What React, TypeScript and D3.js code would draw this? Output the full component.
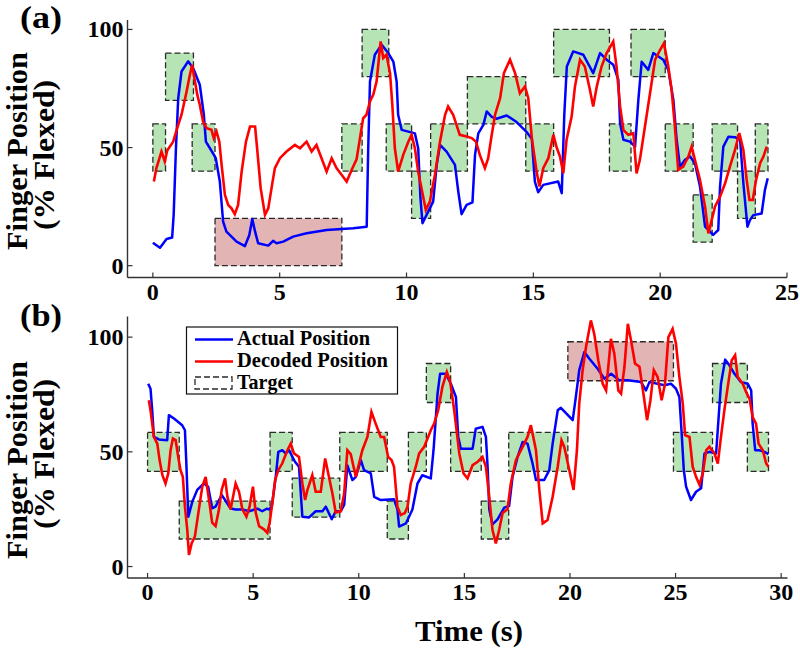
import React from 'react';
import * as d3 from 'd3';

type Pt = [number, number];
type Box = [number, number, number, number];

// Panel (a)
const aActual: Pt[] = [[0,9.7],[0.28,7.6],[0.54,11.3],[0.76,11.9],[0.82,21.5],[0.91,49.7],[1.0,70.9],[1.13,82.2],[1.39,86.5],[1.59,83.6],[1.85,76.6],[2.01,63.9],[2.09,52.5],[2.25,49.7],[2.48,45.5],[2.64,35.6],[2.77,18.6],[2.9,14.4],[3.3,10.2],[3.63,8.3],[3.8,12.9],[3.92,19.8],[4.03,14.4],[4.15,9.5],[4.55,8.5],[4.74,10.5],[4.88,9.5],[5.14,10.2],[5.53,12.3],[6.06,13.7],[6.85,15.1],[7.9,15.8],[8.43,16.5],[8.49,49.7],[8.56,78],[8.75,89.3],[9.02,93.5],[9.28,90],[9.48,86.4],[9.61,78],[9.67,63.9],[9.81,57.5],[10.33,56],[10.46,49.7],[10.55,28.5],[10.63,18],[10.79,21.5],[11.05,27.1],[11.19,42.7],[11.32,51.1],[11.58,48.3],[11.91,42.7],[12.04,31.4],[12.17,21.8],[12.37,25.7],[12.6,26.8],[12.7,46.9],[12.83,56],[13.03,59.6],[13.16,65.3],[13.36,63],[13.55,62.2],[13.95,63.6],[14.34,60.8],[14.74,56.5],[14.94,53.7],[15.06,35.6],[15.19,31.1],[15.39,34.2],[15.98,35.6],[16.12,30.7],[16.22,63.9],[16.32,84.3],[16.57,90.7],[16.97,89.3],[17.36,81.5],[17.63,90],[17.89,87.2],[18.15,85.1],[18.35,78.7],[18.42,60.3],[18.55,53.3],[18.81,52.5],[19.01,50.4],[19.14,70.2],[19.27,86.3],[19.53,82.9],[19.73,90],[20.12,87.2],[20.32,82.9],[20.52,70.2],[20.65,53.3],[20.78,41.9],[20.98,44.8],[21.18,46.2],[21.37,43.4],[21.57,33.5],[21.77,16.5],[22.09,13],[22.29,15.1],[22.36,33.5],[22.49,50.4],[22.69,54.6],[22.95,54.4],[23.15,53.3],[23.28,34.9],[23.44,16.5],[23.54,19.3],[23.67,21.4],[24.0,22.1],[24.13,32.1],[24.24,37]];

const aDecoded: Pt[] = [[0.04,35.6],[0.14,41.3],[0.34,48.3],[0.47,44.1],[0.57,48.9],[0.8,52.5],[1.0,59.6],[1.13,63.9],[1.33,73.7],[1.46,80.8],[1.55,85],[1.66,78],[1.75,72.4],[1.85,68.1],[1.98,61],[2.12,58.2],[2.31,57.5],[2.4,54],[2.51,56.8],[2.62,52.5],[2.71,42.7],[2.84,30],[2.97,25.7],[3.1,24.3],[3.23,21.8],[3.36,25.7],[3.5,39.8],[3.67,52.5],[3.83,58.9],[4.03,58.9],[4.11,49.7],[4.25,32.8],[4.42,21.5],[4.55,24.3],[4.72,35.6],[4.81,41.3],[5.01,45.5],[5.27,48.3],[5.6,51.1],[5.8,49.7],[6.06,52.5],[6.26,48.3],[6.45,51.1],[6.65,45.5],[6.85,39.8],[7.05,45.5],[7.24,41.3],[7.44,38.5],[7.64,35.6],[7.84,40.6],[8.03,45],[8.29,62.4],[8.42,63.9],[8.56,69.5],[8.69,72.4],[8.82,78],[8.98,94.9],[9.08,87.9],[9.21,89.3],[9.35,81.5],[9.44,68.1],[9.54,49.7],[9.67,39.8],[9.87,46.9],[10.07,52.5],[10.2,55.4],[10.33,49.7],[10.46,39.8],[10.59,32.8],[10.76,23.6],[10.92,27.1],[11.12,38.5],[11.32,52.5],[11.52,63.9],[11.64,67.4],[11.84,63.9],[11.97,59.6],[12.1,55.4],[12.37,54.7],[12.57,54],[12.74,52.5],[12.89,46.9],[13.09,41.3],[13.22,45.5],[13.36,55.4],[13.49,63.9],[13.69,70.9],[13.84,81.5],[14.08,87.2],[14.28,81.5],[14.47,73],[14.67,75.9],[14.8,70.9],[14.94,54],[15.13,39.8],[15.24,33.5],[15.39,41.3],[15.59,45.5],[15.79,55.4],[15.92,50],[16.05,46.2],[16.18,39.1],[16.31,53.3],[16.51,63.1],[16.64,75.8],[16.84,87.2],[17.03,84.3],[17.23,74.5],[17.36,67.4],[17.5,75.8],[17.69,84.3],[17.89,90],[18.15,94.9],[18.28,84.3],[18.42,67.4],[18.55,57.5],[18.74,55.4],[18.94,56.1],[19.07,39.1],[19.2,44.8],[19.4,58.9],[19.6,73],[19.8,87.2],[20.0,91.4],[20.15,94.2],[20.32,84.3],[20.45,74.5],[20.58,58.9],[20.71,40.5],[20.91,41.9],[21.11,46.2],[21.24,50.4],[21.37,44.8],[21.57,36.3],[21.77,25],[21.9,13.7],[22.03,19.3],[22.16,25],[22.36,29.2],[22.56,34.9],[22.75,41.9],[22.95,49],[23.12,56.1],[23.28,49],[23.41,36.3],[23.52,27.8],[23.65,27.8],[23.78,36.3],[23.94,43.4],[24.07,46.2],[24.2,50.4]];

const aGreenTargets: Box[] = [[0,0.5,40,60],[0.5,1.6,70,90],[1.55,2.45,40,60],[7.45,8.25,40,60],[8.25,9.3,80,100],[9.2,10.2,40,60],[10.2,10.95,20,40],[10.95,12.4,40,60],[12.4,14.7,60,80],[14.7,15.8,40,60],[15.8,18.0,80,100],[18.0,18.85,40,60],[18.85,20.2,80,100],[20.2,21.3,40,60],[21.3,22.05,10,30],[22.05,23.05,40,60],[23.05,23.75,20,40],[23.75,24.25,40,60]];
const aRedTargets: Box[] = [[2.45,7.45,0,20]];
const aXTicks = [0, 5, 10, 15, 20, 25];

// Panel (b)
const bActual: Pt[] = [[0.03,79.7],[0.14,77.5],[0.22,68.1],[0.3,56.5],[0.54,55.4],[0.93,55.1],[1.01,66],[1.25,64.5],[1.64,61.6],[1.77,59.4],[1.83,46.4],[1.93,21.7],[2.12,28.3],[2.35,33.4],[2.67,36.2],[2.87,34.8],[3.06,25.4],[3.22,26.1],[3.51,31.2],[3.67,29],[3.93,25.3],[4.17,24.9],[4.49,24.9],[4.8,24.1],[5.2,25.2],[5.43,24.1],[5.64,25.2],[5.75,24.9],[5.88,26.1],[6.07,39.1],[6.19,50],[6.38,50.7],[6.54,49.3],[6.7,50.7],[6.98,45.7],[7.17,43.5],[7.33,21.7],[7.65,21.4],[7.96,24.1],[8.28,24.1],[8.44,26.1],[8.72,20.6],[8.91,24.1],[9.15,24.1],[9.31,27],[9.46,44.1],[9.7,37.7],[9.86,39.1],[10.1,46.4],[10.25,42],[10.57,40.6],[10.73,30.4],[11.04,29],[11.67,29.3],[11.83,24.9],[11.91,17.4],[12.23,18.8],[12.54,24.9],[12.78,36.2],[13.01,39.8],[13.41,38.4],[13.54,50.7],[13.73,75.4],[13.85,84],[14.12,84],[14.36,79.7],[14.6,73.9],[14.71,56.5],[14.83,51.4],[15.39,51.4],[15.54,60.1],[15.86,60.9],[16.02,56.5],[16.1,43.5],[16.18,24.9],[16.33,18.4],[16.57,20.6],[16.89,25.7],[17.12,26.4],[17.28,39.1],[17.52,47.8],[17.76,54.3],[17.99,53.6],[18.23,44.9],[18.39,37.7],[18.78,37.7],[19.02,42],[19.18,53.6],[19.42,68.1],[19.57,69.2],[20.13,63.8],[20.28,74],[20.44,85.6],[20.68,93.5],[20.92,90.6],[21.31,86.2],[21.63,81.9],[21.95,84],[22.33,81.2],[22.74,81.2],[23.37,80.4],[23.6,76.8],[23.76,80.4],[24.15,79.7],[24.47,79],[24.78,79.7],[25.02,77.5],[25.18,73.9],[25.29,57.9],[25.39,42],[25.5,34.8],[25.73,29],[25.97,32.6],[26.21,34.1],[26.37,49.3],[26.6,50],[26.92,49.3],[27.03,63.8],[27.15,79.7],[27.35,90.2],[27.55,87.7],[27.79,84],[28.1,80.4],[28.42,79.7],[28.58,76.8],[28.65,62.3],[28.77,50.7],[28.97,50.7],[29.21,50],[29.4,49]];

const bDecoded: Pt[] = [[0.06,72.5],[0.14,68.1],[0.3,56.5],[0.46,53.6],[0.57,46.4],[0.7,39.9],[0.85,36.2],[0.98,40.6],[1.09,50.7],[1.2,55.8],[1.33,55.1],[1.45,47.8],[1.56,42],[1.67,39.1],[1.77,26.1],[1.88,16],[1.96,5.1],[2.09,10.2],[2.24,13.1],[2.43,24.9],[2.59,34.8],[2.75,39.1],[2.91,29],[3.06,19.1],[3.22,17.6],[3.38,24.9],[3.51,33.4],[3.67,38.4],[3.78,30.4],[3.93,24.9],[4.17,36.2],[4.33,32.6],[4.49,24.9],[4.68,21.7],[4.83,26.1],[4.99,34.8],[5.12,23.5],[5.28,17.6],[5.51,16.2],[5.67,14.7],[5.78,19.1],[5.91,27.8],[6.04,37.7],[6.19,42],[6.38,45],[6.62,50.7],[6.78,53.6],[6.93,49.3],[7.17,47.8],[7.33,36.2],[7.46,29],[7.57,33.4],[7.8,39.9],[7.96,32.6],[8.2,32.6],[8.41,47.1],[8.57,39.9],[8.75,31.9],[8.91,23.5],[9.15,24.1],[9.31,31.9],[9.46,50.7],[9.62,49],[9.86,39.1],[10.17,50.7],[10.41,56.5],[10.6,67.4],[10.8,62.3],[11.04,56.5],[11.2,56.5],[11.39,47.8],[11.55,46.4],[11.67,43.5],[11.83,26.1],[11.99,22.5],[12.18,23.3],[12.31,26.1],[12.46,36.2],[12.7,43.5],[12.86,49.3],[13.1,52.2],[13.41,59.4],[13.57,62.3],[13.76,68.1],[13.96,78.3],[14.17,84.8],[14.33,80.4],[14.52,68.1],[14.65,57.9],[14.76,49.3],[14.96,40.6],[15.15,38.4],[15.39,44.2],[15.63,45.7],[15.86,47.8],[16.02,43.5],[16.18,30.4],[16.33,16],[16.49,10.1],[16.65,16],[16.81,23.3],[17.04,24.9],[17.2,36.2],[17.44,46.4],[17.76,52.2],[17.99,56.5],[18.15,61.6],[18.39,50.7],[18.55,33.4],[18.71,18.8],[18.94,20.3],[19.18,30.4],[19.42,43.5],[19.6,55],[19.73,52.2],[19.97,42],[20.17,33.4],[20.33,50.7],[20.44,71.1],[20.6,85.6],[20.76,95.7],[20.99,107.3],[21.15,101.4],[21.34,89.9],[21.55,79.7],[21.71,76.8],[21.94,99.3],[22.1,92.8],[22.29,76.8],[22.42,75.4],[22.58,87.1],[22.74,105.8],[22.89,98.6],[23.08,88.5],[23.29,87.1],[23.5,73.9],[23.65,63.8],[23.81,72.5],[23.97,85.6],[24.15,82.7],[24.34,72.5],[24.5,79.7],[24.66,100],[24.86,103.6],[25.02,97.1],[25.18,82.7],[25.34,71.1],[25.45,57.3],[25.66,56.5],[25.81,43.5],[25.97,39.1],[26.13,35.7],[26.29,40.6],[26.45,50.7],[26.6,52.2],[26.84,49.3],[27.0,44.9],[27.15,56.5],[27.31,68.1],[27.47,78.3],[27.66,89.9],[27.82,92.1],[27.94,82.7],[28.18,79.7],[28.34,76.1],[28.5,73.2],[28.65,65.2],[28.81,62.3],[28.93,53.6],[29.13,50.7],[29.29,44.9],[29.4,43.5]];

const bGreenTargets: Box[] = [[0,1.5,41.5,58.5],[1.5,5.8,12,28.5],[5.8,6.85,41.5,58.5],[6.85,9.1,21.5,38.5],[9.1,11.35,41.5,58.5],[11.35,12.35,12,28.5],[12.35,13.2,41.5,58.5],[13.2,14.35,71.5,88.5],[14.35,15.8,41.5,58.5],[15.8,17.1,12,28.5],[17.1,19.9,41.5,58.5],[24.9,26.75,41.5,58.5],[26.75,28.4,71.5,88.5],[28.4,29.4,41.5,58.5]];
const bRedTargets: Box[] = [[19.9,24.9,81,98]];
const bXTicks = [0, 5, 10, 15, 20, 25, 30];

const yTicks = [0, 50, 100];
const legendLabels = ['Actual Position', 'Decoded Position', 'Target'];
const legendWidths = [133, 151, 56];
const panelLabels = ['(a)', '(b)'];
const yLabel1 = 'Finger Position';
const yLabel2 = '(% Flexed)';
const xLabel = 'Time (s)';

const FONT = '"Liberation Serif", "Times New Roman", Times, serif';
const BLUE = '#0000ff';
const RED = '#ff0000';
const GREEN_FILL = '#b7e4b5';
const PINK_FILL = '#e2b4b4';
const AXIS = '#333';

interface PanelProps {
  xDomain: [number, number];
  xRange: [number, number];
  yDomain: [number, number];
  yRange: [number, number];
  actual: Pt[];
  decoded: Pt[];
  greens: Box[];
  pinks: Box[];
  xTicks: number[];
}

function Panel(p: PanelProps) {
  const x = d3.scaleLinear().domain(p.xDomain).range(p.xRange);
  const y = d3.scaleLinear().domain(p.yDomain).range(p.yRange);
  const line = d3.line<Pt>().x(d => x(d[0])).y(d => y(d[1]));
  const axisY = p.yRange[0];
  const axisX = p.xRange[0];
  const box = (b: Box, fill: string, i: number) => (
    <rect key={i} x={x(b[0])} y={y(b[3])} width={x(b[1]) - x(b[0])} height={y(b[2]) - y(b[3])}
      fill={fill} stroke="#2a2a2a" strokeWidth={1.3} strokeDasharray="6 3" />
  );
  return (
    <g>
      {p.greens.map((b, i) => box(b, GREEN_FILL, i))}
      {p.pinks.map((b, i) => box(b, PINK_FILL, 100 + i))}
      <path d={line(p.actual) || ''} fill="none" stroke={BLUE} strokeWidth={2.5} strokeLinejoin="round" />
      <path d={line(p.decoded) || ''} fill="none" stroke={RED} strokeWidth={2.6} strokeLinejoin="miter" />
      <line x1={axisX} x2={p.xRange[1]} y1={axisY} y2={axisY} stroke={AXIS} strokeWidth={1.4} />
      <line x1={axisX} x2={axisX} y1={axisY} y2={p.yRange[1]} stroke={AXIS} strokeWidth={1.4} />
      {p.xTicks.map(t => (
        <g key={'x' + t}>
          <line x1={x(t)} x2={x(t)} y1={axisY} y2={axisY - 5} stroke={AXIS} strokeWidth={1.2} />
          <text x={x(t)} y={axisY + 22} textAnchor="middle" fontFamily={FONT} fontWeight="bold" fontSize={24}>{t}</text>
        </g>
      ))}
      {yTicks.map(t => (
        <g key={'y' + t}>
          <line x1={axisX} x2={axisX + 5} y1={y(t)} y2={y(t)} stroke={AXIS} strokeWidth={1.2} />
          <text x={axisX - 4} y={y(t) + 8} textAnchor="end" fontFamily={FONT} fontWeight="bold" fontSize={24}>{t}</text>
        </g>
      ))}
    </g>
  );
}

export default function App() {
  const lbl = { fontFamily: FONT, fontWeight: 'bold' as const, lengthAdjust: 'spacingAndGlyphs' };
  return (
    <svg width={800} height={648} style={{ position: 'absolute', left: 0, top: 0, background: '#fff' }}>
      <rect x={0} y={0} width={800} height={648} fill="#fff" />
      <Panel xDomain={[-1, 25]} xRange={[127.5, 787]} yDomain={[-5, 104]} yRange={[277.5, 20]}
        actual={aActual} decoded={aDecoded} greens={aGreenTargets} pinks={aRedTargets} xTicks={aXTicks} />
      <Panel xDomain={[-0.95, 30.3]} xRange={[127.5, 787.5]} yDomain={[-5, 109]} yRange={[578, 316.5]}
        actual={bActual} decoded={bDecoded} greens={bGreenTargets} pinks={bRedTargets} xTicks={bXTicks} />

      <text x={20} y={28} {...lbl} fontSize={31} textLength={42}>{panelLabels[0]}</text>
      <text x={20} y={326} {...lbl} fontSize={31} textLength={42}>{panelLabels[1]}</text>

      <text transform="translate(27,151) rotate(-90)" textAnchor="middle" {...lbl} fontSize={30} textLength={198}>{yLabel1}</text>
      <text transform="translate(54,155) rotate(-90)" textAnchor="middle" {...lbl} fontSize={30} textLength={150}>{yLabel2}</text>
      <text transform="translate(27,460) rotate(-90)" textAnchor="middle" {...lbl} fontSize={30} textLength={198}>{yLabel1}</text>
      <text transform="translate(54,454) rotate(-90)" textAnchor="middle" {...lbl} fontSize={30} textLength={150}>{yLabel2}</text>

      <text x={469} y={641} textAnchor="middle" {...lbl} fontSize={29} textLength={108}>{xLabel}</text>

      <g>
        <rect x={186.5} y={327} width={211} height={67} fill="#fff" stroke="#111" strokeWidth={1.2} />
        <line x1={195} x2={233} y1={339.5} y2={339.5} stroke={BLUE} strokeWidth={2.5} />
        <line x1={195} x2={233} y1={361.5} y2={361.5} stroke={RED} strokeWidth={2.5} />
        <rect x={195} y={377} width={37} height={12} fill="#fff" stroke="#2a2a2a" strokeWidth={1.3} strokeDasharray="6 3" />
        {legendLabels.map((l, i) => (
          <text key={l} x={237} y={345 + i * 22} {...lbl} fontSize={20} textLength={legendWidths[i]}>{l}</text>
        ))}
      </g>
    </svg>
  );
}
